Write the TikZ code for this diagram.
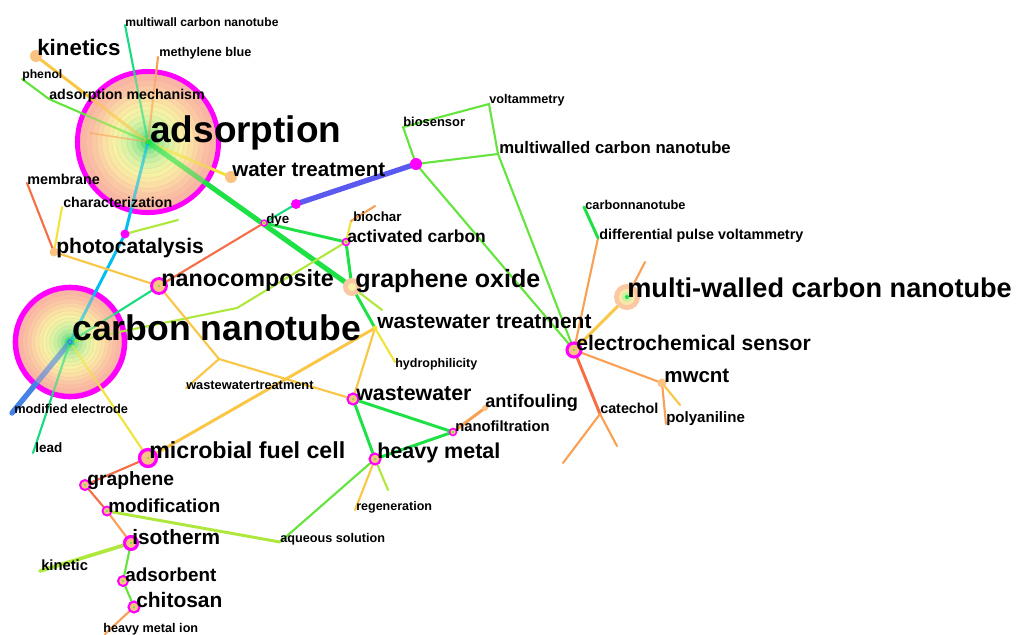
\documentclass[tikz,border=0pt]{standalone}
\usepackage{fontspec}
\setmainfont{Liberation Sans}
\definecolor{cMag}{RGB}{255,0,255}
\definecolor{cG}{RGB}{30,225,70}
\definecolor{cLG}{RGB}{100,228,60}
\definecolor{cYG}{RGB}{175,232,60}
\definecolor{cY}{RGB}{240,228,60}
\definecolor{cOY}{RGB}{250,198,70}
\definecolor{cO}{RGB}{250,160,85}
\definecolor{cR}{RGB}{245,110,70}
\definecolor{cT}{RGB}{25,220,130}
\definecolor{cC}{RGB}{0,190,240}
\definecolor{cB}{RGB}{90,90,240}
\definecolor{cB2}{RGB}{70,130,230}
\definecolor{cNode}{RGB}{250,195,130}
\definecolor{cHalo}{RGB}{250,200,165}
\definecolor{ringline}{RGB}{245,175,145}
\definecolor{ring1}{RGB}{250,182,165}
\definecolor{ring2}{RGB}{250,190,165}
\definecolor{ring3}{RGB}{250,200,165}
\definecolor{ring4}{RGB}{250,212,165}
\definecolor{ring5}{RGB}{250,224,165}
\definecolor{ring6}{RGB}{248,234,165}
\definecolor{ring7}{RGB}{245,241,165}
\definecolor{ring8}{RGB}{235,243,165}
\definecolor{ring9}{RGB}{218,243,165}
\definecolor{ring10}{RGB}{198,240,162}
\definecolor{ring11}{RGB}{172,237,155}
\definecolor{ring12}{RGB}{138,232,145}
\definecolor{ring13}{RGB}{90,225,125}
\definecolor{ring14}{RGB}{40,215,110}
\tikzset{
  w1/.style={line width=1.1pt},
  w2/.style={line width=1.5pt},
  w3/.style={line width=2.1pt},
  w4/.style={line width=3.6pt},
  lbl/.style={anchor=base west, inner sep=0pt, text=black},
  fs/.style={font=\fontsize{#1}{#1}\selectfont\bfseries},
}
\newcommand{\treering}[2]{%
  \foreach \f/\c in {1.00/ring1,0.91/ring2,0.83/ring3,0.75/ring4,0.68/ring5,0.60/ring6,0.53/ring7,0.46/ring8,0.39/ring9,0.31/ring10,0.24/ring11,0.17/ring12,0.11/ring13,0.06/ring14}{
    \filldraw[fill=\c, draw=ringline, draw opacity=0.6, line width=0.3pt] (#1) circle[radius=\f*#2];
  }}
\newcommand{\treeover}[2]{%
  \foreach \f/\g/\c in {1.00/0.91/ring1,0.91/0.83/ring2,0.83/0.75/ring3,0.75/0.68/ring4,0.68/0.60/ring5,0.60/0.53/ring6,0.53/0.46/ring7,0.46/0.39/ring8,0.39/0.31/ring9,0.31/0.24/ring10,0.24/0.17/ring11,0.17/0.11/ring12,0.11/0.06/ring13}{
    \fill[\c, even odd rule, fill opacity=0.4] (#1) circle[radius=\f*#2] (#1) circle[radius=\g*#2];
  }}
\newcommand{\kwring}[3]{%
  \filldraw[fill=cNode, draw=cMag, line width=#3] (#1) circle[radius=#2];
  \fill[cLG] (#1) circle[radius=1.2];}
\newcommand{\kwdot}[2]{\fill[cNode] (#1) circle[radius=#2];}
\begin{document}
\begin{tikzpicture}[x=0.025cm, y=-0.025cm]
\useasboundingbox (0,0) rectangle (1016,634);
\fill[white] (0,0) rectangle (1016,634);
% coordinates
\coordinate (ads) at (148,142);
\coordinate (cnt) at (70,342);
\coordinate (kin) at (36,56);
\coordinate (phe) at (22,79);
\coordinate (mcn) at (125,25);
\coordinate (mb) at (158,57);
\coordinate (am) at (49,99);
\coordinate (sp1) at (90,133);
\coordinate (wt) at (231,177);
\coordinate (mem) at (27,183);
\coordinate (cha) at (62,207);
\coordinate (pho) at (54,252);
\coordinate (m1) at (125,234);
\coordinate (sp2) at (178,220);
\coordinate (dye) at (264,223);
\coordinate (m2) at (296,204);
\coordinate (m3) at (416,164);
\coordinate (bio) at (403,127);
\coordinate (vol) at (489,104);
\coordinate (mwc) at (498,154);
\coordinate (bch) at (351,221);
\coordinate (bche) at (375,206);
\coordinate (ac) at (346,242);
\coordinate (go) at (352,287);
\coordinate (sp3) at (382,310);
\coordinate (nc) at (159,286);
\coordinate (wwt) at (375,328);
\coordinate (hyd) at (395,362);
\coordinate (wj) at (219,359);
\coordinate (wje) at (186,388);
\coordinate (ww) at (353,399);
\coordinate (af) at (485,408);
\coordinate (nf) at (453,432);
\coordinate (hm) at (375,459);
\coordinate (reg) at (355,510);
\coordinate (sp4) at (388,490);
\coordinate (aq) at (280,542);
\coordinate (mfc) at (148,458);
\coordinate (gr) at (85,485);
\coordinate (mod) at (107,511);
\coordinate (iso) at (131,543);
\coordinate (kic) at (40,571);
\coordinate (adb) at (123,581);
\coordinate (chi) at (134,607);
\coordinate (hmi) at (105,634);
\coordinate (lead) at (33,453);
\coordinate (me) at (12,413);
\coordinate (j1) at (237,308);
\coordinate (es) at (574,350);
\coordinate (mw) at (627,297);
\coordinate (sp5) at (645,262);
\coordinate (mwcnt) at (662,383);
\coordinate (pan) at (666,424);
\coordinate (sp6) at (680,405);
\coordinate (cat) at (600,414);
\coordinate (ce1) at (563,463);
\coordinate (ce2) at (617,446);
\coordinate (dpv) at (598,238);
\coordinate (cn) at (584,207);
% big tree-ring nodes
\treering{ads}{68}
\draw[cMag, line width=3.6pt] (ads) circle[radius=70.5];
\treering{cnt}{52}
\draw[cMag, line width=4pt] (cnt) circle[radius=54.5];
% edges
\begin{scope}[line cap=round]
\draw[cOY, w3] (ads) -- (kin);
\draw[cLG, w2] (ads) -- (am) -- (phe);
\draw[cT, w2] (ads) -- (mcn);
\draw[cO, w2] (ads) -- (mb);
\draw[cO, w1] (ads) -- (sp1);
\draw[cY, w3] (ads) -- (wt);
\draw[cG, w4] (ads) -- (go);
\draw[cC, w3] (ads) -- (m1) -- (cnt);
\draw[cYG, w2] (m1) -- (sp2);
\draw[cR, w2] (pho) -- (mem);
\draw[cY, w2] (pho) -- (cha);
\draw[cOY, w2] (pho) -- (nc);
\draw[cR, w2] (dye) -- (nc);
\draw[cT, w2] (dye) -- (m2);
\draw[cB, line width=3.8pt] (m2) -- (m3);
\draw[cG, w3] (dye) -- (ac);
\draw[cLG, w2] (m3) -- (bio);
\draw[cLG, w2] (bio) -- (vol) -- (mwc);
\draw[cLG, w2] (m3) -- (mwc);
\draw[cLG, w2] (m3) -- (es);
\draw[cLG, w2] (mwc) -- (es);
\draw[cG, w3] (ac) -- (go);
\draw[cY, w2] (ac) -- (bch);
\draw[cO, w2] (bch) -- (bche);
\draw[cYG, w2] (ac) -- (j1) -- (cnt);
\draw[cG, w3] (go) -- (wwt);
\draw[cYG, w2] (go) -- (sp3);
\draw[cT, w2] (nc) -- (cnt);
\draw[cOY, w2] (nc) -- (wj);
\draw[cOY, w2] (wj) -- (wje);
\draw[cOY, w2] (wj) -- (ww);
\draw[cY, w2] (wwt) -- (hyd);
\draw[cOY, w2] (wwt) -- (ww);
\draw[cOY, w3] (wwt) -- (mfc);
\draw[cG, w3] (ww) -- (nf);
\draw[cG, w3] (ww) -- (hm);
\draw[cG, w3] (nf) -- (hm);
\draw[cO, w3] (nf) -- (af);
\draw[cOY, w2] (hm) -- (reg);
\draw[cYG, w2] (hm) -- (sp4);
\draw[cLG, w2] (hm) -- (aq);
\draw[cYG, w3] (aq) -- (mod);
\draw[cB2, line width=3.8pt] (cnt) -- (me);
\draw[cT, w2] (cnt) -- (lead);
\draw[cY, w2] (cnt) -- (mfc);
\draw[cR, w2] (mfc) -- (gr);
\draw[cR, w2] (gr) -- (mod);
\draw[cO, w2] (mod) -- (iso);
\draw[cYG, line width=2.6pt] (iso) -- (kic);
\draw[cLG, w2] (iso) -- (adb);
\draw[cLG, w2] (adb) -- (chi);
\draw[cO, w2] (chi) -- (hmi);
\draw[cOY, w3] (es) -- (mw);
\draw[cO, w2] (mw) -- (sp5);
\draw[cO, w2] (es) -- (dpv);
\draw[cG, w3] (dpv) -- (cn);
\draw[cO, w2] (es) -- (mwcnt);
\draw[cO, w2] (mwcnt) -- (pan);
\draw[cOY, w2] (mwcnt) -- (sp6);
\draw[cR, w3] (es) -- (cat);
\draw[cO, w2] (cat) -- (ce1);
\draw[cO, w2] (cat) -- (ce2);
\end{scope}
% soften edges inside the big circles
\treeover{ads}{68}
\treeover{cnt}{52}
% centre marks of big circles
\fill[cG] (ads) circle[radius=2.5];
\fill[cT] (cnt) circle[radius=4];
\draw[cB2, line width=1pt] (cnt) circle[radius=2];
% halo of multi-walled carbon nanotube
\fill[cHalo] (mw) circle[radius=13];
\fill[ring6] (mw) circle[radius=8];
\fill[ring10] (mw) circle[radius=5];
\fill[cG] (mw) circle[radius=2];
% node markers
\kwdot{kin}{6}
\kwdot{wt}{6}
\kwdot{pho}{4.5}
\fill[cHalo] (go) circle[radius=9];
\fill[ring7] (go) circle[radius=4];
\kwdot{af}{3}
\kwdot{mwcnt}{4.5}
\fill[cY] (wwt) circle[radius=2.5];
\kwring{nc}{7.5}{2pt}
\kwring{mfc}{8.5}{2.4pt}
\kwring{es}{7}{2.2pt}
\kwring{iso}{6.5}{2.2pt}
\kwring{ww}{5.5}{1.5pt}
\kwring{hm}{5.5}{1.5pt}
\kwring{chi}{5.5}{1.5pt}
\kwring{adb}{5}{1.4pt}
\kwring{gr}{5}{1.4pt}
\kwring{mod}{4.5}{1.3pt}
\kwring{nf}{3.5}{1.1pt}
\kwring{ac}{3.5}{1.1pt}
\kwring{dye}{3}{1pt}
\fill[cMag] (m1) circle[radius=4.5];
\fill[cMag] (m2) circle[radius=5];
\fill[cMag] (m3) circle[radius=6];
% labels
\node[lbl, fs=26.3] (L-ads) at (150,142) {adsorption};
\node[lbl, fs=25.3] (L-cnt) at (72,340) {carbon nanotube};
\node[lbl, fs=19.3] (L-mw) at (627,297) {multi-walled carbon nanotube};
\node[lbl, fs=17.8] (L-go) at (355,287) {graphene oxide};
\node[lbl, fs=16.6] (L-nc) at (161,286) {nanocomposite};
\node[lbl, fs=16.5] (L-mfc) at (149,458) {microbial fuel cell};
\node[lbl, fs=14.6] (L-wt) at (232,176) {water treatment};
\node[lbl, fs=14.9] (L-wwt) at (377,328) {wastewater treatment};
\node[lbl, fs=15] (L-es) at (576,350) {electrochemical sensor};
\node[lbl, fs=15.9] (L-kin) at (37,55) {kinetics};
\node[lbl, fs=15] (L-pho) at (56,253) {photocatalysis};
\node[lbl, fs=12.4] (L-ac) at (347,242) {activated carbon};
\node[lbl, fs=11.9] (L-mwc) at (499,153) {multiwalled carbon nanotube};
\node[lbl, fs=15.2] (L-ww) at (356,400) {wastewater};
\node[lbl, fs=15.3] (L-hm) at (377,458) {heavy metal};
\node[lbl, fs=12.9] (L-af) at (485,407) {antifouling};
\node[lbl, fs=14.6] (L-mwcnt) at (664,382) {mwcnt};
\node[lbl, fs=13.7] (L-gr) at (87,485) {graphene};
\node[lbl, fs=13.4] (L-mod) at (108,512) {modification};
\node[lbl, fs=14.8] (L-iso) at (132,544) {isotherm};
\node[lbl, fs=13.4] (L-adb) at (125,581) {adsorbent};
\node[lbl, fs=14.9] (L-chi) at (136,607) {chitosan};
\node[lbl, fs=8.6] (L-mcn) at (125,26) {multiwall carbon nanotube};
\node[lbl, fs=9] (L-mb) at (159,56) {methylene blue};
\node[lbl, fs=10.1] (L-am) at (49,99) {adsorption mechanism};
\node[lbl, fs=8.7] (L-phe) at (22,78) {phenol};
\node[lbl, fs=10.2] (L-mem) at (27,184) {membrane};
\node[lbl, fs=10.1] (L-cha) at (63,207) {characterization};
\node[lbl, fs=9.5] (L-dye) at (266,223) {dye};
\node[lbl, fs=9.5] (L-bch) at (353,221) {biochar};
\node[lbl, fs=8.9] (L-hyd) at (395,367) {hydrophilicity};
\node[lbl, fs=9.1] (L-wj) at (186,389) {wastewatertreatment};
\node[lbl, fs=10.5] (L-nf) at (455,431) {nanofiltration};
\node[lbl, fs=8.9] (L-reg) at (356,510) {regeneration};
\node[lbl, fs=9] (L-aq) at (280,542) {aqueous solution};
\node[lbl, fs=10.5] (L-kic) at (41,570) {kinetic};
\node[lbl, fs=9] (L-hmi) at (103,632) {heavy metal ion};
\node[lbl, fs=9.6] (L-lead) at (35,452) {lead};
\node[lbl, fs=9.1] (L-me) at (14,413) {modified electrode};
\node[lbl, fs=9.2] (L-bio) at (403,126) {biosensor};
\node[lbl, fs=9] (L-vol) at (489,103) {voltammetry};
\node[lbl, fs=9.1] (L-cn) at (585,209) {carbonnanotube};
\node[lbl, fs=10.2] (L-dpv) at (599,239) {differential pulse voltammetry};
\node[lbl, fs=10.2] (L-cat) at (600,413) {catechol};
\node[lbl, fs=10.7] (L-pan) at (666,422) {polyaniline};
\end{tikzpicture}
\end{document}
